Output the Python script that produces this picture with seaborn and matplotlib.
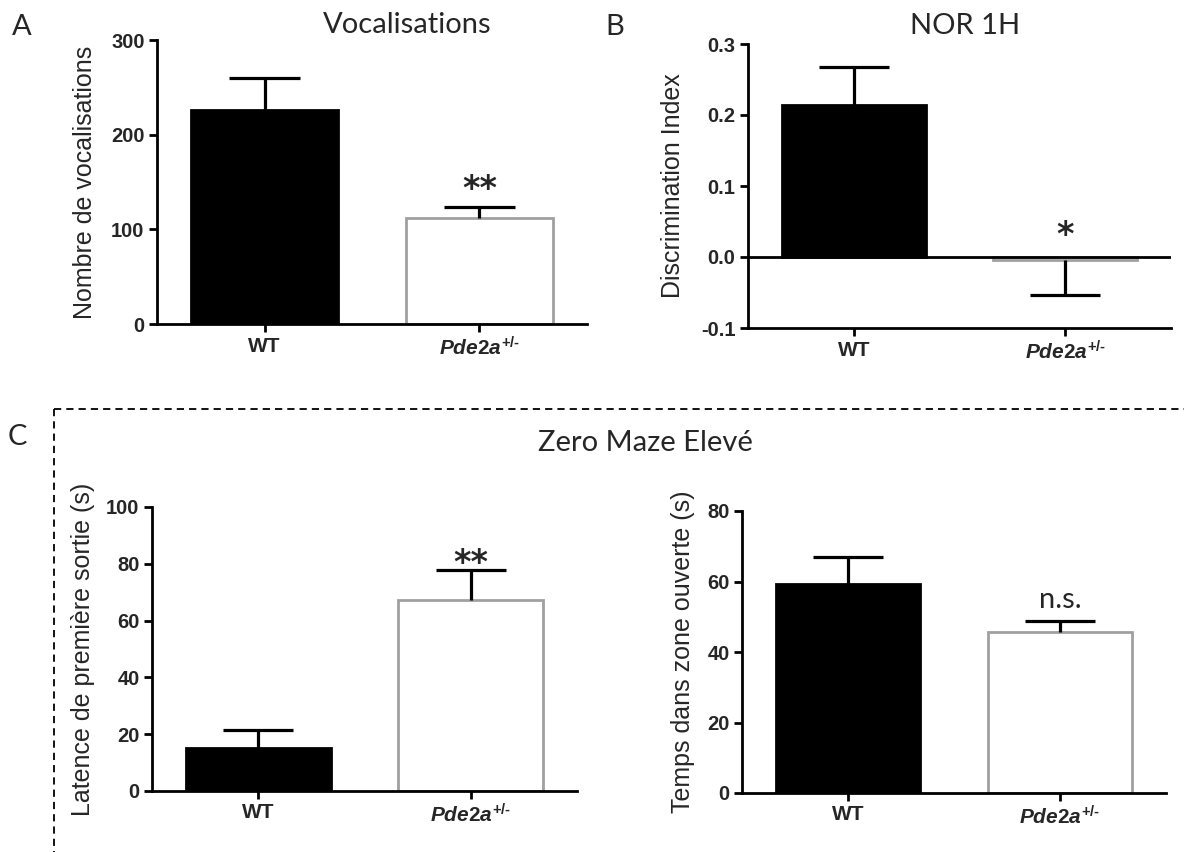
import pandas as pd
import matplotlib
matplotlib.use("Agg")
import matplotlib.pyplot as plt
import seaborn as sns
from matplotlib.lines import Line2D

# values (mean and one-sided SEM)
groups = ["WT", "Pde2a"]
group_labels = ["WT", "$\\mathit{Pde2a}^{\\mathit{+/\u2010}}$"]

voc_mean = [226, 112]
voc_sem = [34, 12]
voc_ticks = [0, 100, 200, 300]

nor_mean = [0.214, -0.004]
nor_sem = [0.054, 0.049]
nor_ticks = [-0.1, 0.0, 0.1, 0.2, 0.3]

lat_mean = [15.1, 67.3]
lat_sem = [6.4, 10.5]
lat_ticks = [0, 20, 40, 60, 80, 100]

open_mean = [59.3, 45.7]
open_sem = [7.7, 3.1]
open_ticks = [0, 20, 40, 60, 80]

sns.set_style("ticks")
plt.rcParams["font.family"] = ["Liberation Sans", "DejaVu Sans"]
plt.rcParams["axes.unicode_minus"] = False
plt.rcParams["mathtext.fontset"] = "custom"
plt.rcParams["mathtext.it"] = "Liberation Sans:italic:bold"
plt.rcParams["mathtext.rm"] = "Liberation Sans:bold"
plt.rcParams["mathtext.bf"] = "Liberation Sans:bold"

W, H = 1184, 852
fig = plt.figure(figsize=(W / 100, H / 100), dpi=100)
TITLE_FONT = ["Lato", "DejaVu Sans"]


def px_axes(left, top, right, bottom):
    return fig.add_axes([left / W, 1 - bottom / H, (right - left) / W, (bottom - top) / H])


def draw_panel(ax, means, sems, ticks, tick_fmt, ylabel, label_x, star, star_off):
    df = pd.DataFrame({"group": groups, "value": means})
    sns.barplot(data=df, x="group", y="value", hue="group", palette=["black", "white"],
                width=0.68, saturation=1, errorbar=None, legend=False, ax=ax)
    for patch, ec in zip(ax.patches, ["black", "#a0a0a0"]):
        patch.set_edgecolor(ec)
        patch.set_linewidth(2)
    for patch, m, s in zip(ax.patches, means, sems):
        x = patch.get_x() + patch.get_width() / 2
        end = m + s if m >= 0 else m - s
        ax.vlines(x, m, end, color="black", lw=2.3, zorder=5)
        ax.hlines(end, x - 0.165, x + 0.165, color="black", lw=2.3, zorder=5)
    # significance mark over the mutant bar
    p = ax.patches[1]
    top = max(means[1] + sems[1], 0) if means[1] >= 0 else 0
    if star.startswith("*"):
        font, size, weight = ["DejaVu Sans"], 24, "bold"
    else:
        font, size, weight = TITLE_FONT, 21, "normal"
    ax.annotate(star, xy=(p.get_x() + p.get_width() / 2, top), xytext=(0, star_off),
                textcoords="offset points", ha="center", va="center",
                fontsize=size, family=font, fontweight=weight)
    ax.set_xlim(-0.5, 1.5)
    ax.set_ylim(ticks[0], ticks[-1])
    ax.set_yticks(ticks, [tick_fmt.format(t) for t in ticks], fontweight="bold", fontsize=14.5)
    ax.set_xticks([0, 1], group_labels, fontweight="bold", fontsize=15)
    ax.set_xlabel("")
    ax.set_ylabel(ylabel, fontsize=18)
    ax.yaxis.set_label_coords(label_x, 0.5)
    sns.despine(ax=ax)
    for side in ["left", "bottom"]:
        ax.spines[side].set_linewidth(2)
        ax.spines[side].set_color("black")
    ax.tick_params(axis="both", width=2, length=6, color="black", pad=3)


axA = px_axes(157, 40, 587, 324)
draw_panel(axA, voc_mean, voc_sem, voc_ticks, "{:d}", "Nombre de vocalisations", -0.14, "**", 12.5)

axB = px_axes(748, 44, 1171, 328)
draw_panel(axB, nor_mean, nor_sem, nor_ticks, "{:.1f}", "Discrimination Index", -0.149, "*", 15.5)
axB.axhline(0, color="black", lw=2, zorder=6)

axC1 = px_axes(152, 507, 577, 791)
draw_panel(axC1, lat_mean, lat_sem, lat_ticks, "{:d}", "Latence de première sortie (s)", -0.134, "**", 4.5)

axC2 = px_axes(742, 511, 1166, 793)
draw_panel(axC2, open_mean, open_sem, open_ticks, "{:d}", "Temps dans zone ouverte (s)", -0.11, "n.s.", 15)

# titles and panel letters
fig.text(407 / W, 1 - 25 / H, "Vocalisations", ha="center", va="center", fontsize=21, family=TITLE_FONT)
fig.text(965 / W, 1 - 26 / H, "NOR 1H", ha="center", va="center", fontsize=21, family=TITLE_FONT)
fig.text(645 / W, 1 - 443 / H, "Zero Maze Elevé", ha="center", va="center", fontsize=21, family=TITLE_FONT)
fig.text(22 / W, 1 - 27 / H, "A", ha="center", va="center", fontsize=21, family=TITLE_FONT)
fig.text(615 / W, 1 - 27 / H, "B", ha="center", va="center", fontsize=21, family=TITLE_FONT)
fig.text(17 / W, 1 - 437 / H, "C", ha="center", va="center", fontsize=21, family=TITLE_FONT)

# dashed frame around panel C
fig.add_artist(Line2D([54 / W, 1.0], [1 - 409 / H, 1 - 409 / H], transform=fig.transFigure,
                      color="black", lw=1.3, linestyle=(0, (4, 2.8))))
fig.add_artist(Line2D([54 / W, 54 / W], [1 - 409 / H, 0.0], transform=fig.transFigure,
                      color="black", lw=1.3, linestyle=(0, (4, 2.8))))

fig.savefig("out.png", dpi=100, facecolor="white")
